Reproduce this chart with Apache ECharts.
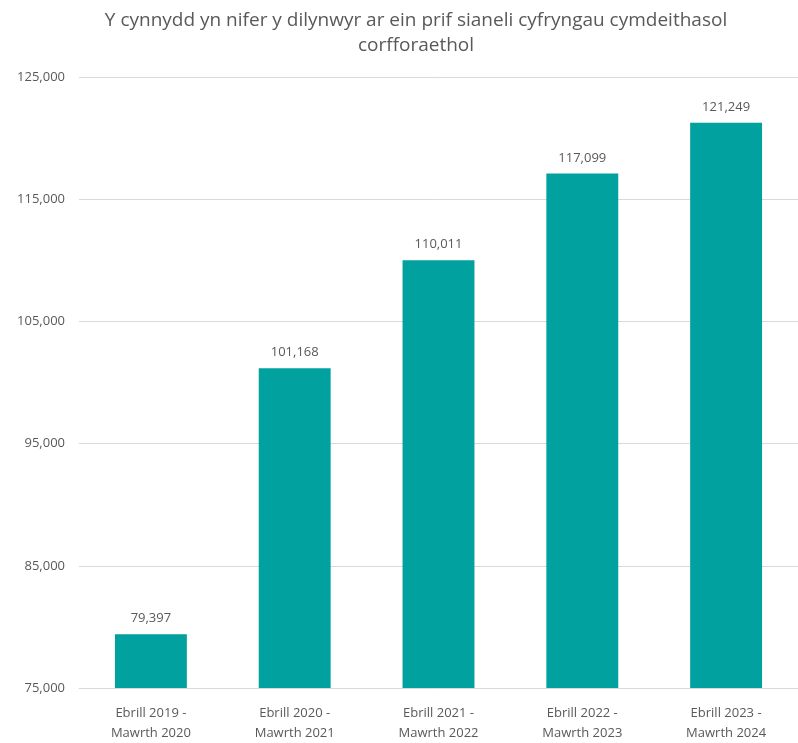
<!DOCTYPE html>
<html><head><meta charset="utf-8">
<script src="https://cdn.jsdelivr.net/npm/echarts@6/dist/echarts.min.js"></script>
<style>html,body{margin:0;padding:0;background:#fff}#c{width:798px;height:743px}</style>
</head><body><div id="c"></div>
<script>
const titleText = 'Y cynnydd yn nifer y dilynwyr ar ein prif sianeli cyfryngau cymdeithasol\ncorfforaethol';
const categories = ['Ebrill 2019 -\nMawrth 2020','Ebrill 2020 -\nMawrth 2021','Ebrill 2021 -\nMawrth 2022','Ebrill 2022 -\nMawrth 2023','Ebrill 2023 -\nMawrth 2024'];
const followers = [79397, 101168, 110011, 117099, 121249];
const yMin = 75000, yMax = 125000, yStep = 10000;

const chart = echarts.init(document.getElementById('c'));
const font = 'Open Sans, Liberation Sans, sans-serif';
chart.setOption({
  animation: false,
  title: {
    text: titleText, left: 411, top: 3, textAlign: 'center',
    textStyle: {color: '#595959', fontSize: 19, fontWeight: 'normal', fontFamily: font, lineHeight: 25}
  },
  grid: {left: 79, right: -14, top: 77, bottom: 45, containLabel: false},
  xAxis: {
    type: 'category', data: categories,
    axisLine: {lineStyle: {color: '#d9d9d9'}},
    axisTick: {show: false},
    axisLabel: {color: '#595959', fontSize: 13, fontFamily: font, lineHeight: 20, margin: 15}
  },
  yAxis: {
    type: 'value', min: yMin, max: yMax, interval: yStep,
    axisLine: {show: false}, axisTick: {show: false},
    splitLine: {lineStyle: {color: '#d9d9d9'}},
    axisLabel: {color: '#595959', fontSize: 13, fontFamily: font, margin: 14,
      formatter: v => v.toLocaleString('en-US')}
  },
  series: [{
    type: 'bar', data: followers, barWidth: '50%',
    itemStyle: {color: '#00A19F'},
    label: {show: true, position: 'top', distance: 9, color: '#595959', fontSize: 13, fontFamily: font,
      formatter: p => p.value.toLocaleString('en-US')}
  }]
});
</script></body></html>
